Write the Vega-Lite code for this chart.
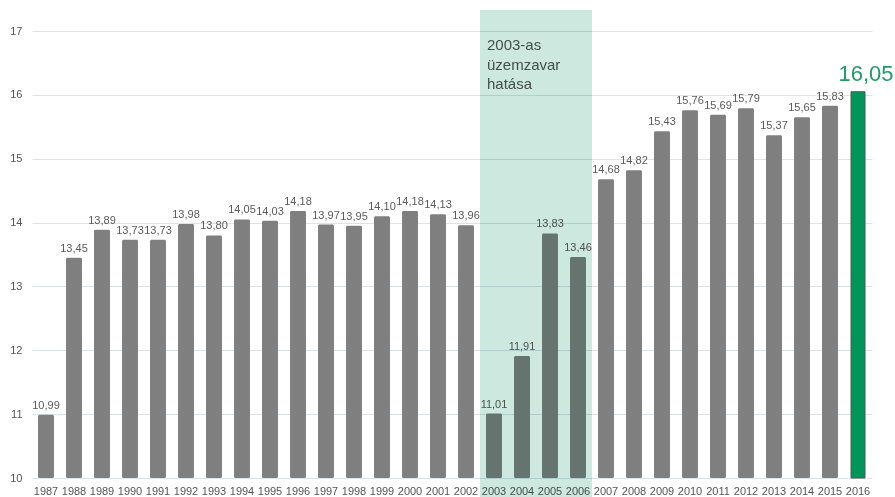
{
  "$schema": "https://vega.github.io/schema/vega-lite/v6.json",
  "width": 840,
  "height": 468,
  "autosize": "none",
  "padding": {"left": 32, "top": 10, "right": 23, "bottom": 19},
  "background": "white",
  "config": {
    "view": {"stroke": null},
    "font": "Liberation Sans",
    "locale": {"number": {"decimal": ",", "thousands": " ", "grouping": [3], "currency": ["", ""]}}
  },
  "data": {"values": [
    {"year": "1987", "value": 10.99},
    {"year": "1988", "value": 13.45},
    {"year": "1989", "value": 13.89},
    {"year": "1990", "value": 13.73},
    {"year": "1991", "value": 13.73},
    {"year": "1992", "value": 13.98},
    {"year": "1993", "value": 13.80},
    {"year": "1994", "value": 14.05},
    {"year": "1995", "value": 14.03},
    {"year": "1996", "value": 14.18},
    {"year": "1997", "value": 13.97},
    {"year": "1998", "value": 13.95},
    {"year": "1999", "value": 14.10},
    {"year": "2000", "value": 14.18},
    {"year": "2001", "value": 14.13},
    {"year": "2002", "value": 13.96},
    {"year": "2003", "value": 11.01},
    {"year": "2004", "value": 11.91},
    {"year": "2005", "value": 13.83},
    {"year": "2006", "value": 13.46},
    {"year": "2007", "value": 14.68},
    {"year": "2008", "value": 14.82},
    {"year": "2009", "value": 15.43},
    {"year": "2010", "value": 15.76},
    {"year": "2011", "value": 15.69},
    {"year": "2012", "value": 15.79},
    {"year": "2013", "value": 15.37},
    {"year": "2014", "value": 15.65},
    {"year": "2015", "value": 15.83},
    {"year": "2016", "value": 16.05}
  ]},
  "encoding": {
    "x": {
      "field": "year", "type": "ordinal",
      "scale": {"type": "band", "paddingInner": 0, "paddingOuter": 0},
      "axis": {"title": null, "domain": false, "ticks": false, "labelAngle": 0, "labelFontSize": 11, "labelColor": "#555555", "labelPadding": 7, "grid": false}
    }
  },
  "layer": [
    {
      "transform": [{"filter": "datum.year != '2016'"}],
      "mark": {"type": "bar", "color": "#7f7f7f", "width": {"band": 0.57}, "cornerRadius": 1.5},
      "encoding": {
        "y": {
          "field": "value", "type": "quantitative",
          "scale": {"domain": [10, 17.33], "nice": false, "zero": false},
          "axis": {"title": null, "values": [10, 11, 12, 13, 14, 15, 16, 17], "domain": false, "ticks": false, "grid": true, "gridColor": "#dde3e8", "gridWidth": 1.2, "labelFontSize": 11, "labelColor": "#555555", "labelPadding": 10, "format": "d"}
        },
        "y2": {"datum": 10}
      }
    },
    {
      "transform": [{"filter": "datum.year == '2016'"}],
      "mark": {"type": "bar", "color": "#00955a", "stroke": "#555555", "strokeWidth": 1, "width": {"band": 0.5}},
      "encoding": {
        "y": {"field": "value", "type": "quantitative"},
        "y2": {"datum": 10}
      }
    },
    {
      "transform": [{"filter": "datum.year != '2016'"}],
      "mark": {"type": "text", "baseline": "alphabetic", "dy": -6, "fontSize": 11, "color": "#5a5a5a"},
      "encoding": {
        "y": {"field": "value", "type": "quantitative"},
        "text": {"field": "value", "type": "quantitative", "format": ".2f"}
      }
    },
    {
      "transform": [{"filter": "datum.year == '2016'"}],
      "mark": {"type": "text", "baseline": "alphabetic", "dy": -11, "dx": 8, "fontSize": 22, "color": "#1e9e66"},
      "encoding": {
        "y": {"field": "value", "type": "quantitative"},
        "text": {"field": "value", "type": "quantitative", "format": ".2f"}
      }
    },
    {
      "transform": [{"filter": "datum.year == '2003'"}],
      "mark": {"type": "text", "align": "left", "baseline": "alphabetic", "dx": 7, "dy": 19, "fontSize": 15, "lineHeight": 19.5, "color": "#555555"},
      "encoding": {
        "x": {"field": "year", "type": "ordinal", "bandPosition": 0},
        "y": {"datum": 17},
        "text": {"value": ["2003-as", "üzemzavar", "hatása"]}
      }
    },
    {
      "transform": [{"filter": {"field": "year", "oneOf": ["2003", "2004", "2005", "2006"]}}],
      "mark": {"type": "rect", "fill": "#cde8de", "blend": "multiply"},
      "encoding": {
        "y": {"datum": 17.33},
        "y2": {"datum": 9.7}
      }
    }
  ]
}
